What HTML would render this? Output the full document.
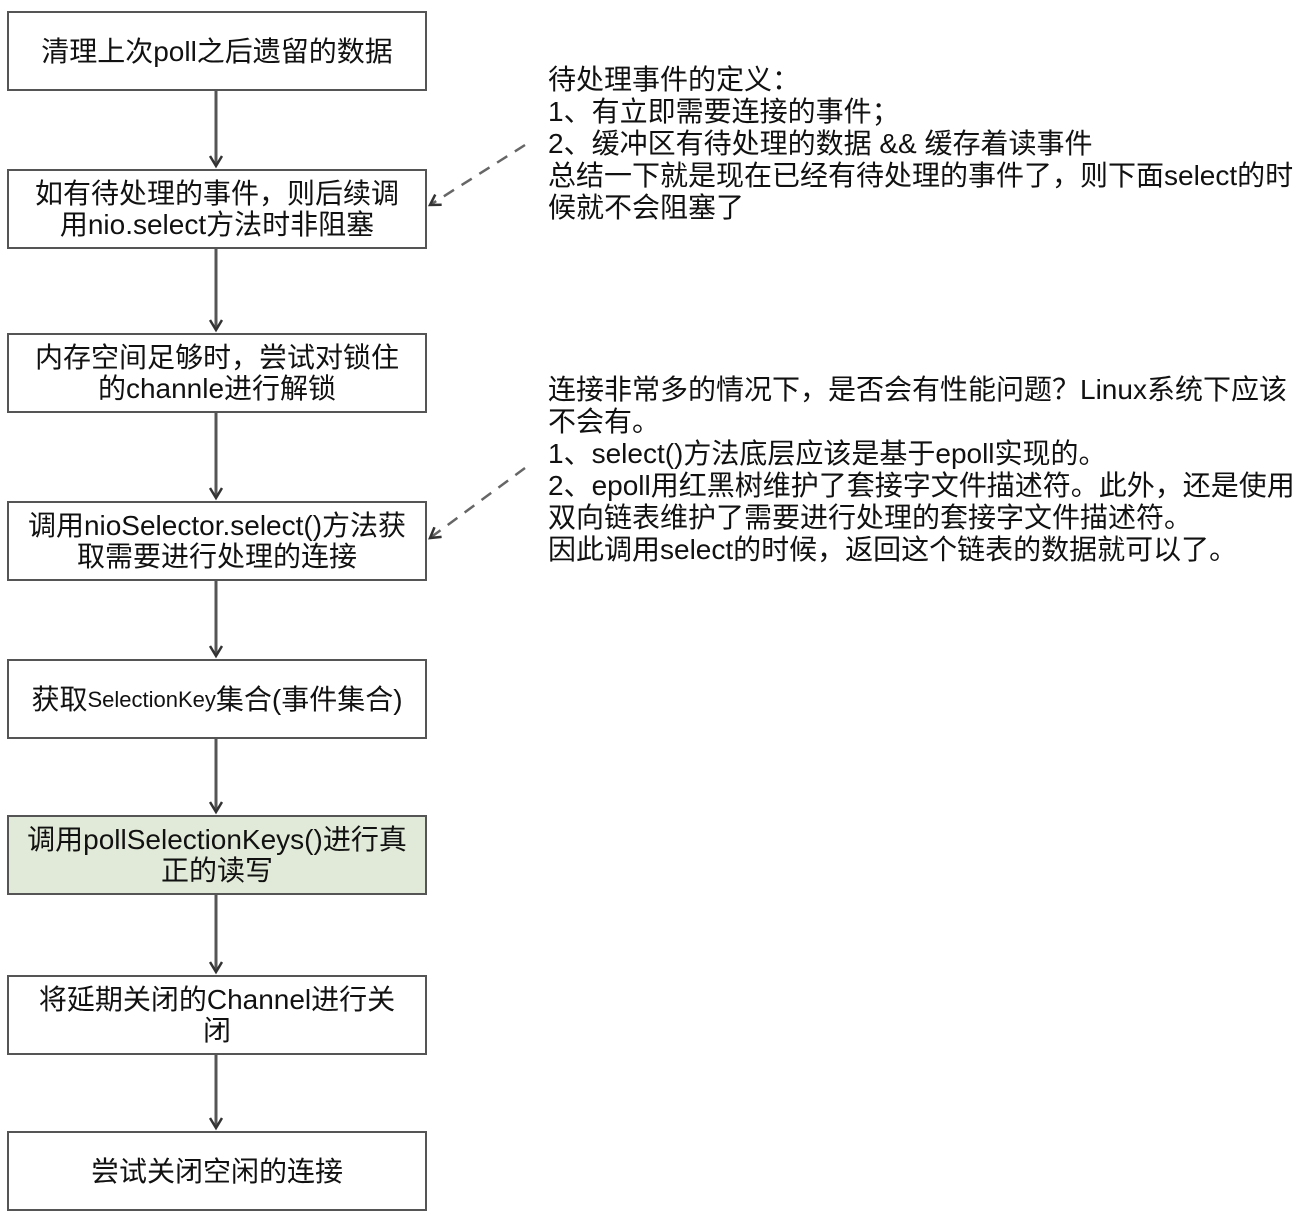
<!DOCTYPE html><html><head><meta charset="utf-8"><style>
body{margin:0;width:1310px;height:1220px;background:#fff;position:relative;font-family:"Liberation Sans","Noto Sans CJK SC",sans-serif;}
.b{position:absolute;left:7px;width:420px;height:80px;border:2px solid #555;display:flex;align-items:center;justify-content:center;text-align:center;font-size:28px;line-height:31px;color:#111;box-sizing:border-box;white-space:nowrap}
.t{position:absolute;left:548px;font-size:28px;line-height:32px;color:#111;white-space:pre}
svg{position:absolute;left:0;top:0}
</style></head><body>
<svg width="1310" height="1220">
<defs><marker id="a" markerWidth="14" markerHeight="14" refX="11" refY="7" orient="auto" markerUnits="userSpaceOnUse"><path d="M1,1 L11,7 L1,13" fill="none" stroke="#333" stroke-width="2.5"/></marker></defs>
<g stroke="#555" stroke-width="3" marker-end="url(#a)">
<line x1="216" y1="91" x2="216" y2="166"/>
<line x1="216" y1="249" x2="216" y2="330"/>
<line x1="216" y1="413" x2="216" y2="498"/>
<line x1="216" y1="581" x2="216" y2="656"/>
<line x1="216" y1="739" x2="216" y2="812"/>
<line x1="216" y1="895" x2="216" y2="972"/>
<line x1="216" y1="1055" x2="216" y2="1128"/>
</g>
<g stroke="#666" stroke-width="2.5" stroke-dasharray="12,9" marker-end="url(#a)">
<line x1="525" y1="145" x2="430" y2="205"/>
<line x1="525" y1="468" x2="430" y2="538"/>
</g>
</svg>
<div class="b" style="top:11px">清理上次poll之后遗留的数据</div>
<div class="b" style="top:169px">如有待处理的事件，则后续调<br>用nio.select方法时非阻塞</div>
<div class="b" style="top:333px">内存空间足够时，尝试对锁住<br>的channle进行解锁</div>
<div class="b" style="top:501px">调用nioSelector.select()方法获<br>取需要进行处理的连接</div>
<div class="b" style="top:659px">获取<span style="font-size:22px">SelectionKey</span>集合(事件集合)</div>
<div class="b" style="top:815px;background:#e1ead8">调用pollSelectionKeys()进行真<br>正的读写</div>
<div class="b" style="top:975px">将延期关闭的Channel进行关<br>闭</div>
<div class="b" style="top:1131px">尝试关闭空闲的连接</div>
<div class="t" style="top:64px">待处理事件的定义：
1、有立即需要连接的事件；
2、缓冲区有待处理的数据 &amp;&amp; 缓存着读事件
总结一下就是现在已经有待处理的事件了，则下面select的时
候就不会阻塞了</div>
<div class="t" style="top:374px">连接非常多的情况下，是否会有性能问题？Linux系统下应该
不会有。
1、select()方法底层应该是基于epoll实现的。
2、epoll用红黑树维护了套接字文件描述符。此外，还是使用
双向链表维护了需要进行处理的套接字文件描述符。
因此调用select的时候，返回这个链表的数据就可以了。</div>
</body></html>
